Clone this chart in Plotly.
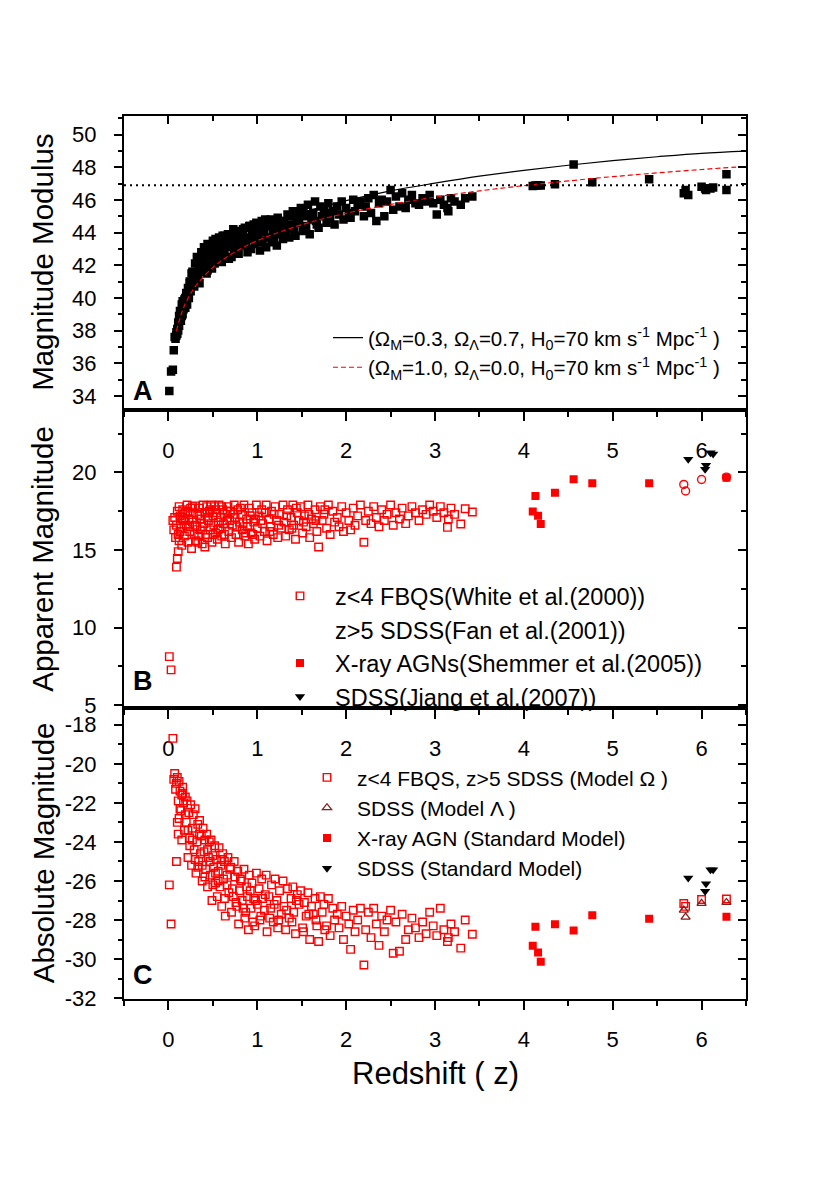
import plotly.graph_objects as go

# ---------------- data ----------------
# FBQS quasars (z < 4): same objects in all three panels
fbqs_z = [
    0.01, 0.03, 0.05, 0.06, 0.07, 0.08, 0.09, 0.09, 0.10, 0.10,
    0.11, 0.11, 0.12, 0.12, 0.13, 0.14, 0.15, 0.15, 0.16, 0.17,
    0.18, 0.19, 0.20, 0.21, 0.22, 0.23, 0.24, 0.25, 0.26, 0.27,
    0.28, 0.29, 0.30, 0.31, 0.32, 0.33, 0.34, 0.35, 0.36, 0.37,
    0.38, 0.39, 0.40, 0.41, 0.42, 0.43, 0.44, 0.45, 0.46, 0.47,
    0.48, 0.49, 0.50, 0.51, 0.52, 0.53, 0.54, 0.55, 0.56, 0.57,
    0.58, 0.59, 0.60, 0.61, 0.62, 0.63, 0.64, 0.66, 0.67, 0.68,
    0.70, 0.71, 0.72, 0.74, 0.75, 0.76, 0.78, 0.79, 0.80, 0.82,
    0.83, 0.85, 0.86, 0.88, 0.89, 0.90, 0.91, 0.93, 0.94, 0.96,
    0.97, 0.99, 1.00, 1.02, 1.03, 1.05, 1.06, 1.08, 1.10, 1.11,
    1.13, 1.15, 1.16, 1.18, 1.20, 1.22, 1.23, 1.25, 1.27, 1.29,
    1.30, 1.32, 1.34, 1.36, 1.38, 1.40, 1.41, 1.43, 1.45, 1.47,
    1.49, 1.51, 1.53, 1.55, 1.57, 1.59, 1.61, 1.63, 1.65, 1.67,
    1.69, 1.71, 1.73, 1.75, 1.78, 1.80, 1.82, 1.85, 1.87, 1.90,
    1.92, 1.95, 1.97, 2.00, 2.03, 2.05, 2.08, 2.10, 2.13, 2.16,
    2.20, 2.22, 2.25, 2.28, 2.31, 2.34, 2.37, 2.40, 2.43, 2.46,
    2.50, 2.53, 2.56, 2.60, 2.63, 2.67, 2.70, 2.74, 2.78, 2.82,
    2.86, 2.90, 2.94, 2.98, 3.02, 3.06, 3.10, 3.14, 3.15, 3.18,
    3.22, 3.29, 3.34, 3.42,
    0.13, 0.16, 0.19, 0.22, 0.24, 0.27, 0.30, 0.33, 0.35, 0.38,
    0.41, 0.44, 0.47, 0.50, 0.53, 0.56, 0.60, 0.63, 0.66, 0.69,
    0.73, 0.77, 0.81, 0.84, 0.87, 0.92, 0.95, 0.98, 1.04, 1.09,
    1.14, 1.19, 1.24, 1.33, 1.39, 1.44, 1.52, 1.58, 1.66, 1.76,
]
# panel B: apparent magnitude
fbqs_app = [
    8.13, 7.27, 16.9, 16.3, 17.1, 15.8, 13.9, 16.6, 14.45, 17.5,
    14.9, 16.0, 15.6, 17.8, 17.2, 16.4, 15.3, 17.0, 17.6, 16.9,
    15.9, 17.4, 16.6, 17.9, 15.5, 17.0, 16.2, 17.7, 15.1, 16.8,
    17.4, 16.0, 17.85, 15.6, 16.5, 17.3, 15.9, 17.7, 16.3, 17.0,
    15.4, 17.9, 16.7, 17.4, 16.0, 17.8, 15.8, 16.9, 17.5, 16.3,
    17.9, 15.5, 17.2, 16.6, 17.8, 16.1, 17.4, 15.7, 16.8, 17.9,
    16.4, 17.1, 15.9, 17.6, 16.7, 17.3, 15.4, 16.9, 17.8, 16.2,
    17.5, 15.8, 16.6, 17.9, 17.1, 16.0, 17.6, 15.5, 16.8, 17.3,
    16.3, 17.9, 15.9, 17.0, 16.5, 15.4, 17.7, 16.1, 17.4, 16.8,
    15.7, 17.9, 16.4, 17.2, 15.9, 17.6, 16.7, 16.2, 17.9, 15.6,
    17.0, 16.5, 17.5, 16.0, 17.8, 16.9, 15.8, 17.3, 16.4, 17.9,
    16.8, 15.9, 17.6, 16.3, 17.1, 17.9, 16.6, 15.7, 17.4, 16.9,
    17.8, 16.1, 17.2, 16.5, 17.9, 15.8, 17.0, 16.7, 17.6, 16.2,
    15.2, 17.8, 16.9, 17.3, 16.4, 17.9, 16.0, 17.5, 16.8, 17.1,
    16.5, 17.8, 16.2, 17.4, 16.9, 16.3, 17.7, 16.6, 17.2, 17.9,
    15.5, 16.9, 17.5, 16.7, 17.8, 17.1, 16.5, 17.6, 16.9, 17.3,
    17.9, 16.6, 17.4, 17.0, 17.7, 16.7, 17.2, 17.8, 17.4, 16.9,
    17.6, 17.3, 17.9, 17.5, 17.1, 17.8, 17.4, 16.46, 17.0, 17.7,
    17.3, 16.68, 17.66, 17.45,
    16.2, 17.3, 16.9, 17.5, 16.5, 17.8, 16.6, 15.5, 17.2, 16.5,
    15.2, 17.1, 17.6, 16.0, 17.6, 16.3, 17.8, 16.0, 17.5, 16.9,
    17.3, 16.5, 17.7, 16.7, 16.1, 17.2, 16.0, 17.0, 16.9, 17.4,
    16.2, 17.3, 16.6, 17.2, 16.4, 17.7, 16.8, 17.3, 16.9, 17.6,
]
# panel C: absolute magnitude (Model Omega)
fbqs_abs = [
    -26.2, -28.2, -18.7, -20.8, -20.5, -21.3, -25.0, -21.0, -23.0, -20.7,
    -23.6, -21.9, -22.8, -20.9, -21.4, -22.4, -23.9, -21.6, -21.2, -22.0,
    -23.4, -21.7, -23.0, -21.9, -24.8, -22.5, -23.8, -22.1, -25.2, -23.3,
    -22.6, -24.4, -22.3, -25.6, -24.0, -23.1, -25.0, -22.9, -24.6, -23.7,
    -26.0, -23.3, -24.5, -23.9, -25.4, -23.6, -26.3, -24.8, -24.0, -25.7,
    -23.9, -27.0, -24.7, -25.3, -24.2, -26.1, -24.9, -26.8, -25.5, -24.3,
    -26.3, -25.2, -27.3, -24.6, -25.9, -25.0, -27.8, -25.7, -24.8, -26.6,
    -25.3, -27.6, -26.4, -25.0, -25.8, -27.1, -25.5, -28.2, -26.5, -26.0,
    -27.0, -25.4, -27.9, -26.3, -26.8, -28.5, -25.7, -27.4, -26.1, -26.9,
    -28.3, -25.6, -27.2, -26.4, -28.0, -25.9, -26.9, -27.5, -25.7, -28.6,
    -26.8, -27.4, -26.2, -28.1, -25.9, -27.0, -28.4, -26.5, -27.7, -26.0,
    -27.3, -28.5, -26.4, -27.9, -26.9, -26.3, -27.6, -28.7, -26.7, -27.2,
    -26.5, -28.4, -27.1, -27.8, -26.6, -29.0, -27.3, -27.7, -26.9, -28.3,
    -29.1, -26.8, -27.6, -27.2, -28.3, -26.9, -28.8, -27.4, -28.0, -27.7,
    -28.4, -27.3, -29.0, -27.8, -28.2, -29.5, -27.5, -28.6, -28.0, -27.4,
    -30.3, -28.5, -27.6, -28.9, -27.4, -28.2, -29.3, -27.8, -28.6, -28.0,
    -27.5, -29.7, -28.1, -29.6, -27.7, -29.0, -28.5, -27.9, -28.4, -28.9,
    -28.1, -28.7, -27.6, -28.3, -28.8, -27.4, -28.5, -29.1, -28.9, -28.2,
    -28.6, -29.44, -28.0, -28.73,
    -22.3, -21.5, -22.6, -23.4, -24.2, -23.9, -24.9, -25.3, -23.6, -25.2,
    -25.8, -24.4, -25.0, -26.2, -25.6, -26.0, -24.9, -26.9, -26.2, -25.4,
    -26.8, -27.3, -25.9, -27.4, -27.6, -26.5, -28.1, -27.0, -27.8, -26.7,
    -27.9, -27.2, -28.0, -27.5, -28.1, -27.0, -28.6, -27.7, -28.0, -28.5,
]
# panel A: magnitude modulus
fbqs_mu = [
    34.3, 35.5, 35.6, 36.8, 37.6, 37.5, 37.7, 37.9, 38.1, 37.8,
    38.5, 38.0, 38.9, 38.3, 39.2, 38.6, 39.6, 38.9, 39.8, 39.3,
    39.9, 39.4, 40.3, 39.6, 40.6, 40.0, 41.0, 40.4, 41.5, 40.8,
    41.2, 40.7, 42.1, 41.0, 42.5, 41.4, 42.0, 40.9, 41.7, 42.8,
    41.6, 42.4, 43.1, 41.9, 42.6, 41.5, 43.3, 42.2, 42.0, 43.0,
    42.7, 41.8, 43.5, 42.9, 42.1, 43.6, 42.5, 43.2, 42.8, 43.7,
    42.9, 43.3, 42.2, 43.8, 43.0, 42.6, 43.5, 43.1, 43.9, 42.4,
    43.4, 42.5, 43.7, 42.9, 43.6, 44.0, 43.3, 42.7, 44.1, 43.5,
    43.9, 43.2, 44.3, 43.7, 42.8, 43.6, 44.4, 43.0, 44.0, 44.5,
    43.3, 44.6, 43.8, 44.2, 42.9, 44.7, 43.5, 44.0, 43.1, 44.4,
    43.7, 44.8, 43.4, 44.1, 44.6, 43.2, 44.9, 43.9, 44.3, 43.6,
    44.7, 44.0, 45.1, 43.7, 44.5, 45.3, 44.2, 43.8, 45.0, 44.6,
    45.5, 44.1, 45.0, 44.4, 45.7, 43.9, 44.8, 45.2, 45.9, 44.5,
    44.3, 45.6, 45.0, 45.4, 44.6, 45.8, 44.9, 45.3, 44.5, 45.6,
    45.1, 45.9, 44.8, 45.5, 45.2, 44.9, 46.0, 45.3, 45.7, 45.9,
    45.0, 45.6, 46.1, 45.2, 46.3, 44.7, 45.8, 46.0, 45.0, 45.9,
    46.6, 45.4, 46.2, 45.6, 46.4, 45.5, 46.0, 46.3, 45.8, 45.7,
    46.1, 45.9, 46.3, 45.8, 45.1, 46.0, 45.7, 45.5, 45.3, 46.1,
    45.9, 45.7, 46.1, 46.2,
    38.7, 39.0, 40.0, 40.1, 40.9, 41.6, 41.3, 42.3, 41.6, 42.6,
    42.8, 41.7, 42.3, 43.0, 42.4, 43.4, 43.1, 43.8, 42.5, 43.2,
    44.2, 43.0, 43.9, 44.2, 43.4, 44.4, 43.8, 44.3, 43.4, 44.8,
    44.4, 43.7, 44.7, 44.3, 45.0, 44.8, 45.3, 45.1, 44.7, 45.2,
]

# X-ray AGNs (Shemmer et al. 2005)
xray_z = [4.10, 4.13, 4.16, 4.19, 4.35, 4.56, 4.77, 5.41, 6.28]
xray_app = [17.49, 18.49, 17.21, 16.68, 18.70, 19.57, 19.30, 19.30, 19.66]
xray_abs = [-29.32, -28.34, -29.66, -30.14, -28.22, -28.53, -27.75, -27.93, -27.83]
xray_mu = [46.85, 46.88, 46.90, 46.88, 46.96, 48.17, 47.08, 47.26, 47.57]

# z > 5 SDSS (Fan et al. 2001)
fan_z = [5.80, 5.82, 6.00, 6.28]
fan_app = [19.23, 18.81, 19.55, 19.70]
fan_abs_omega = [-27.15, -27.30, -26.95, -26.92]
fan_abs_lambda = [-27.49, -27.85, -27.15, -27.10]
fan_mu = [46.40, 46.60, 46.80, 46.60]

# SDSS (Jiang et al. 2007)
jiang_z = [5.85, 6.04, 6.05, 6.10, 6.13]
jiang_app = [20.85, 20.21, 20.47, 21.28, 21.20]
jiang_abs = [-25.85, -26.53, -26.14, -25.42, -25.42]
jiang_mu = [46.30, 46.70, 46.60, 46.70, 46.75]

# model curves in panel A
curve_z = [0.09, 0.15, 0.2, 0.3, 0.5, 0.7, 1.0, 1.5, 2.0, 2.5, 3.0,
           3.5, 4.0, 4.5, 5.0, 5.5, 6.0, 6.5]
lcdm_mu = [38.06, 39.29, 39.96, 40.95, 42.26, 43.15, 44.10, 45.20, 45.95,
           46.55, 47.02, 47.45, 47.81, 48.12, 48.40, 48.64, 48.85, 48.98]
eds_mu = [37.98, 39.11, 39.76, 40.68, 41.86, 42.65, 43.50, 44.48, 45.18,
          45.72, 46.17, 46.55, 46.87, 47.16, 47.42, 47.65, 47.86, 48.05]
limit_mu = 46.9

c_ticks = [-32, -30, -28, -26, -24, -22, -20, -18]
c_ticktext = ["-32", "-30", "-28", "-26", "-24", "-22", "-20", "-18"]

# ---------------- figure ----------------
# the page body has an 8px margin, so the figure is 16px smaller than the window
PAD = 8
W, H = 830 - 2 * PAD, 1187 - 2 * PAD
FONT = "Liberation Sans, Arial, Helvetica, sans-serif"
RED = "#ff0000"
DARKRED = "#8b1a1a"


def px_x(p):
    return (p - PAD) / W


def px_y(p):
    return 1 - (p - PAD) / H


left, right = px_x(124), px_x(746)
dom_a = [px_y(414), px_y(117)]
dom_b = [px_y(715), px_y(414)]
dom_c = [px_y(1009), px_y(715)]
xr = [-0.5, 6.5]

fig = go.Figure()

sq_open = dict(symbol="square-open", size=7.5, color=RED, line=dict(width=1.4, color=RED))
sq_fill = dict(symbol="square", size=8, color=RED, line=dict(width=0))
tri_down = dict(symbol="triangle-down", size=9, color="black", line=dict(width=0))
sq_black = dict(symbol="square", size=8.5, color="black", line=dict(width=0))

# ---- panel A ----
for zz, vv in [(fbqs_z, fbqs_mu), (xray_z, xray_mu), (fan_z, fan_mu), (jiang_z, jiang_mu)]:
    fig.add_trace(go.Scatter(x=zz, y=vv, mode="markers", marker=sq_black,
                             xaxis="x", yaxis="y", showlegend=False))
fig.add_trace(go.Scatter(
    x=curve_z, y=lcdm_mu, mode="lines", line=dict(color="black", width=1.2),
    line_shape="spline", xaxis="x", yaxis="y", legend="legend", legendgroup="a1",
    name="(Ω<sub>M</sub>=0.3, Ω<sub>Λ</sub>=0.7, H<sub>0</sub>=70 km s<sup>-1</sup> Mpc<sup>-1</sup> )"))
fig.add_trace(go.Scatter(
    x=curve_z, y=eds_mu, mode="lines", line=dict(color=RED, width=1.2, dash="5px,3px"),
    line_shape="spline", xaxis="x", yaxis="y", legend="legend", legendgroup="a2",
    name="(Ω<sub>M</sub>=1.0, Ω<sub>Λ</sub>=0.0, H<sub>0</sub>=70 km s<sup>-1</sup> Mpc<sup>-1</sup> )"))
fig.add_shape(type="line", xref="x domain", x0=0, x1=1, yref="y",
              y0=limit_mu, y1=limit_mu,
              line=dict(color="black", width=2, dash="2px,4px"))

# ---- panel B ----
fig.add_trace(go.Scatter(x=fbqs_z, y=fbqs_app, mode="markers", marker=sq_open,
                         xaxis="x2", yaxis="y2", legend="legend2", legendgroup="b1",
                         name="z<4 FBQS(White et al.(2000))"))
fig.add_trace(go.Scatter(x=fan_z, y=fan_app, mode="markers",
                         marker=dict(symbol="circle-open", size=8, color=RED, line=dict(width=1.4)),
                         xaxis="x2", yaxis="y2", showlegend=False))
fig.add_trace(go.Scatter(x=[None], y=[None], mode="markers",
                         marker=dict(size=7, color="rgba(0,0,0,0)"),
                         xaxis="x2", yaxis="y2", legend="legend2", legendgroup="b2",
                         name="z>5 SDSS(Fan et al.(2001))"))
fig.add_trace(go.Scatter(x=xray_z, y=xray_app, mode="markers", marker=sq_fill,
                         xaxis="x2", yaxis="y2", legend="legend2", legendgroup="b3",
                         name="X-ray AGNs(Shemmer et al.(2005))"))
fig.add_trace(go.Scatter(x=jiang_z, y=jiang_app, mode="markers", marker=tri_down,
                         xaxis="x2", yaxis="y2", legend="legend2", legendgroup="b4",
                         name="SDSS(Jiang et al.(2007))"))

# ---- panel C ----
fig.add_trace(go.Scatter(x=fbqs_z + fan_z, y=fbqs_abs + fan_abs_omega, mode="markers",
                         marker=sq_open, xaxis="x3", yaxis="y3", legend="legend3",
                         legendgroup="c1", name="z<4 FBQS, z>5 SDSS (Model Ω )"))
fig.add_trace(go.Scatter(x=fan_z, y=fan_abs_lambda, mode="markers",
                         marker=dict(symbol="triangle-up-open", size=8, color=DARKRED,
                                     line=dict(width=1.3, color=DARKRED)),
                         xaxis="x3", yaxis="y3", legend="legend3", legendgroup="c2",
                         name="SDSS (Model Λ )"))
fig.add_trace(go.Scatter(x=xray_z, y=xray_abs, mode="markers", marker=sq_fill,
                         xaxis="x3", yaxis="y3", legend="legend3", legendgroup="c3",
                         name="X-ray AGN (Standard Model)"))
fig.add_trace(go.Scatter(x=jiang_z, y=jiang_abs, mode="markers", marker=tri_down,
                         xaxis="x3", yaxis="y3", legend="legend3", legendgroup="c4",
                         name="SDSS (Standard Model)"))

# ---------------- axes ----------------
tick_font = dict(family=FONT, size=22, color="black")


def xmain(anchor):
    return dict(domain=[left, right], range=xr, anchor=anchor, tickmode="linear",
                tick0=0, dtick=1, ticks="outside", ticklen=9, tickwidth=1.6,
                tickcolor="black", showline=True, linewidth=2, linecolor="black",
                showgrid=False, zeroline=False, tickfont=tick_font,
                ticklabelstandoff=11,
                minor=dict(dtick=0.5, tick0=0, ticks="outside", ticklen=5,
                           tickwidth=1.6, tickcolor="black", showgrid=False))


def xtop(over, anchor):
    return dict(domain=[left, right], range=xr, overlaying=over, anchor=anchor,
                side="top", tickmode="linear", tick0=0, dtick=1, ticks="inside",
                ticklen=8, tickwidth=1.6, tickcolor="black", showline=True,
                linewidth=2, linecolor="black", showticklabels=False,
                showgrid=False, zeroline=False,
                minor=dict(dtick=0.5, tick0=0, ticks="inside", ticklen=5,
                           tickwidth=1.6, tickcolor="black", showgrid=False))


def ymain(dom, rng, dtick, minor, anchor, **kw):
    d = dict(domain=dom, range=rng, anchor=anchor, tickmode="linear",
             tick0=0, dtick=dtick, ticks="outside", ticklen=8, tickwidth=1.6,
             tickcolor="black", showline=True, linewidth=2, linecolor="black",
             showgrid=False, zeroline=False, tickfont=tick_font,
             ticklabelstandoff=13,
             minor=dict(dtick=minor, tick0=0, ticks="outside", ticklen=4,
                        tickwidth=1.6, tickcolor="black", showgrid=False))
    d.update(kw)
    return d


def yright(dom, rng, dtick, minor, over, anchor):
    return dict(domain=dom, range=rng, overlaying=over, anchor=anchor, side="right",
                tickmode="linear", tick0=0, dtick=dtick, ticks="inside", ticklen=8,
                tickwidth=1.6, tickcolor="black", showline=True, linewidth=2,
                linecolor="black", showticklabels=False, showgrid=False,
                zeroline=False,
                minor=dict(dtick=minor, tick0=0, ticks="inside", ticklen=5,
                           tickwidth=1.6, tickcolor="black", showgrid=False))


rng_a = [33.15, 51.14]
rng_b = [4.83, 24.04]
rng_c = [-32.03, -17.13]

layout_axes = dict(
    xaxis=xmain("y"),
    xaxis2=xmain("y2"),
    xaxis3=xmain("y3"),
    xaxis4=xtop("x", "y"),
    xaxis5=xtop("x2", "y2"),
    xaxis6=xtop("x3", "y3"),
    yaxis=ymain(dom_a, rng_a, 2, 1, "x"),
    yaxis2=ymain(dom_b, rng_b, 5, 2.5, "x2"),
    yaxis3=ymain(dom_c, rng_c, 2, 1, "x3", tickmode="array",
                 tickvals=c_ticks, ticktext=c_ticktext),
    yaxis4=yright(dom_a, rng_a, 2, 1, "y", "x"),
    yaxis5=yright(dom_b, rng_b, 5, 2.5, "y2", "x2"),
    yaxis6=yright(dom_c, rng_c, 2, 1, "y3", "x3"),
)

# empty traces so the overlay axes are drawn
for xa, ya in [("x4", "y"), ("x5", "y2"), ("x6", "y3"), ("x", "y4"), ("x2", "y5"), ("x3", "y6")]:
    fig.add_trace(go.Scatter(x=[None], y=[None], xaxis=xa, yaxis=ya, showlegend=False,
                             hoverinfo="skip"))

legend_common = dict(bgcolor="rgba(0,0,0,0)", borderwidth=0, xanchor="left",
                     yanchor="top", traceorder="normal")

fig.update_layout(
    width=W, height=H,
    margin=dict(l=0, r=0, t=0, b=0),
    paper_bgcolor="white", plot_bgcolor="white",
    font=dict(family=FONT, color="black"),
    legend=dict(x=px_x(328), y=px_y(321), font=dict(family=FONT, size=20.5),
                itemwidth=30, tracegroupgap=6, **legend_common),
    legend2=dict(x=px_x(265), y=px_y(580), font=dict(family=FONT, size=23.5),
                 itemwidth=60, tracegroupgap=0, **legend_common),
    legend3=dict(x=px_x(297), y=px_y(765), font=dict(family=FONT, size=21),
                 itemwidth=50, tracegroupgap=0, **legend_common),
    **layout_axes,
)

# axis titles and panel letters
ann = [
    ("Magnitude Modulus", px_x(43), (dom_a[0] + dom_a[1]) / 2, 29.5, -90),
    ("Apparent Magnitude", px_x(43), (dom_b[0] + dom_b[1]) / 2, 29.5, -90),
    ("Absolute Magnitude", px_x(43), (dom_c[0] + dom_c[1]) / 2, 29.5, -90),
    ("Redshift ( z)", px_x(435), px_y(1085), 31, 0),
    ("<b>A</b>", px_x(143), px_y(395), 27, 0),
    ("<b>B</b>", px_x(143), px_y(688), 27, 0),
    ("<b>C</b>", px_x(143), px_y(985), 27, 0),
]
for text, ax_, ay_, size, angle in ann:
    fig.add_annotation(xref="paper", yref="paper", showarrow=False,
                       xanchor="center", yanchor="middle",
                       font=dict(family=FONT, color="black", size=size),
                       text=text, x=ax_, y=ay_, textangle=angle)

fig.write_html("out.html")
